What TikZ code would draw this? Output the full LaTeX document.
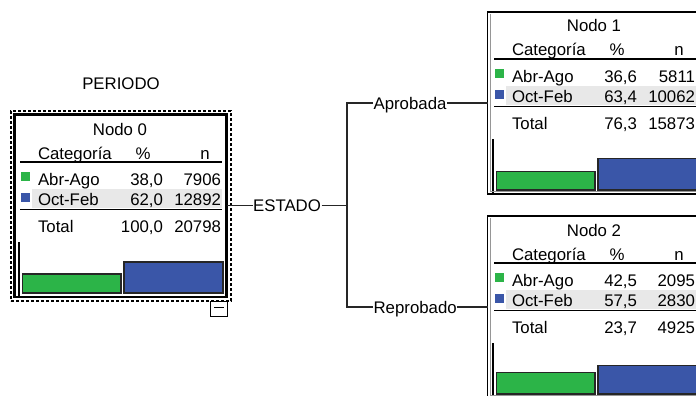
\documentclass[tikz,border=0pt]{standalone}
\usepackage{fontspec}
\setmainfont{Liberation Sans}
\definecolor{barG}{RGB}{44,180,72}
\definecolor{barB}{RGB}{58,86,168}
\definecolor{bandc}{RGB}{232,232,232}
\definecolor{framegray}{RGB}{150,150,150}
\tikzset{
  every node/.style={font=\fontsize{16.8}{20}\selectfont, inner sep=0pt, outer sep=0pt},
  txt/.style={anchor=base west},
  num/.style={anchor=base east},
  ctr/.style={anchor=base},
  lbl/.style={inner xsep=0.6pt, inner ysep=0pt, text height=12pt, text depth=0pt},
  rulel/.style={line width=1.3pt, black},
  conn/.style={line width=1.2pt, black!85},
  sq/.style={line width=0.4pt},
  bar/.style={draw=black!85, line width=1.2pt},
  axisl/.style={line width=1.2pt, black},
}
% #1 L, #2 T, #3 id, #4 p1, #5 n1, #6 p2, #7 n2, #8 pt, #9 nt
\newcommand\treecontent[9]{%
  \fill[bandc] ({#1+18},{#2+74.3}) rectangle ({#1+208},{#2+93.3});
  \node[ctr] (title#3) at ({#1+106},{#2+20}) {Nodo #3};
  \node[txt] (cat#3) at ({#1+24},{#2+44}) {Categoría};
  \node[ctr] (pc#3) at ({#1+129},{#2+44}) {\%};
  \node[ctr] (nn#3) at ({#1+191},{#2+44}) {n};
  \draw[rulel] ({#1+6},{#2+47}) -- ({#1+208},{#2+47});
  \fill[barG] ({#1+7},{#2+57}) rectangle ({#1+16},{#2+66});
  \node[txt] (a#3) at ({#1+24},{#2+70}) {Abr-Ago};
  \node[num] (ap#3) at ({#1+149},{#2+70}) {#4};
  \node[num] (an#3) at ({#1+207},{#2+70}) {#5};
  \fill[barB] ({#1+7},{#2+78}) rectangle ({#1+16},{#2+87});
  \node[txt] (o#3) at ({#1+24},{#2+90.5}) {Oct-Feb};
  \node[num] (op#3) at ({#1+149},{#2+90.5}) {#6};
  \node[num] (on#3) at ({#1+207},{#2+90.5}) {#7};
  \draw[rulel] ({#1+6},{#2+94.5}) -- ({#1+208},{#2+94.5});
  \node[txt] (t#3) at ({#1+24},{#2+117}) {Total};
  \node[num] (tp#3) at ({#1+149},{#2+117}) {#8};
  \node[num] (tn#3) at ({#1+207},{#2+117}) {#9};
  \draw[axisl] ({#1+5},{#2+127}) -- ({#1+5},{#2+181});
}
% #1 L, #2 T, #3 green height, #4 blue height
\newcommand\treebars[4]{%
  \draw[bar, fill=barG] ({#1+8.5},{#2+178-#3}) rectangle ({#1+107},{#2+178});
  \draw[bar, fill=barB] ({#1+110},{#2+178-#4}) rectangle ({#1+209},{#2+178});
}
\begin{document}
\begin{tikzpicture}[x=1pt,y=-1pt]
\useasboundingbox (0,0) rectangle (696,396);
\clip (0,0) rectangle (696,396);
\fill[white] (0,0) rectangle (696,396);

% title
\node[ctr] (per) at (121,89) {PERIODO};

% node 0
\node[draw, dash pattern=on 3pt off 2pt, line width=1.3pt, minimum width=220pt, minimum height=190pt, anchor=north west] (n0o) at (11,111) {};
\treecontent{14}{115}{0}{38,0}{7906}{62,0}{12892}{100,0}{20798}
\treebars{14}{115}{19}{31}
\node[draw, line width=2.5pt, minimum width=212pt, minimum height=182.5pt, anchor=north west] (n0) at (14.5,114.5) {};
\node[draw, line width=1pt, fill=white, minimum width=17pt, minimum height=15pt, anchor=north west] (col) at (210.5,301) {};
\draw[line width=1pt] ([xshift=-5pt,yshift=1pt]col.center) -- ([xshift=5pt,yshift=1pt]col.center);

% node 1
\treecontent{488}{12}{1}{36,6}{5811}{63,4}{10062}{76,3}{15873}
\treebars{488}{12}{18.3}{31.7}
\draw[framegray, line width=1pt] (490,14) -- (490,191.5) -- (701,191.5);
\node[draw, line width=1.2pt, minimum width=213.5pt, minimum height=182pt, anchor=north west] (n1) at (487.5,12) {};

% node 2
\treecontent{488}{216}{2}{42,5}{2095}{57,5}{2830}{23,7}{4925}
\treebars{488}{216}{21.25}{28.75}
\draw[framegray, line width=1pt] (490,218) -- (490,395.5) -- (701,395.5);
\node[draw, line width=1.2pt, minimum width=213.5pt, minimum height=182pt, anchor=north west] (n2) at (487.5,216) {};

% connectors
\coordinate (split) at (347,205.75);
\node[lbl, anchor=west] (estado) at ([xshift=26pt]n0.east) {ESTADO};
\node[lbl, anchor=west] (apr) at (373,103) {Aprobada};
\node[lbl, anchor=west] (rep) at (373,307) {Reprobado};
\draw[conn] (n0.east) -- (estado.west);
\draw[conn] (estado.east) -- (split);
\draw[conn] (apr.west) -| (split) |- (rep.west);
\draw[conn] (apr.east) -- (n1.west);
\draw[conn] (rep.east) -- (n2.west);
\end{tikzpicture}
\end{document}
